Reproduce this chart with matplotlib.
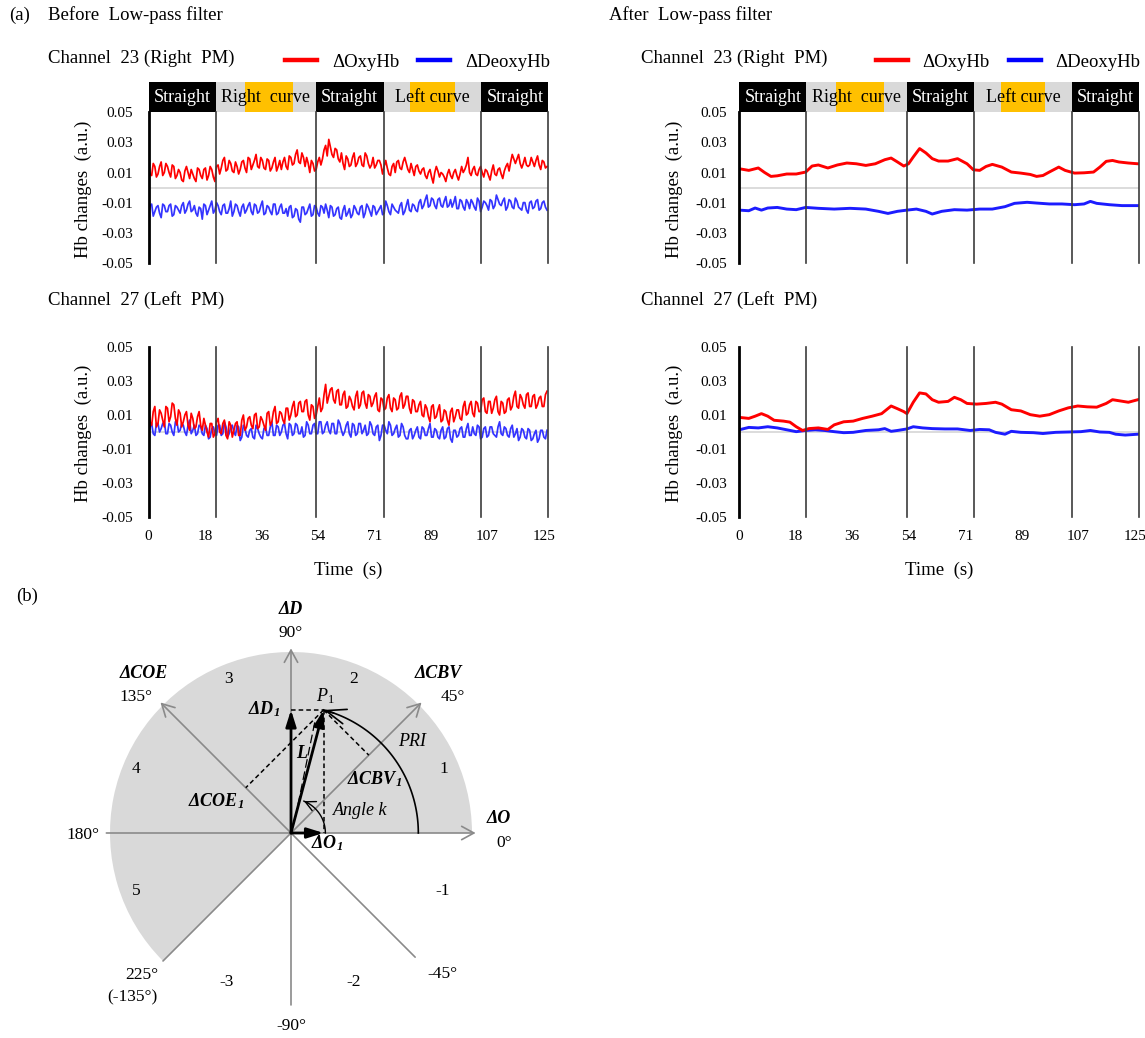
import numpy as np
import matplotlib.pyplot as plt
from matplotlib.patches import Rectangle, Wedge, FancyArrowPatch
from matplotlib.lines import Line2D

plt.rcParams['font.family'] = ['Liberation Serif', 'DejaVu Serif']
plt.rcParams['mathtext.fontset'] = 'custom'
plt.rcParams['mathtext.rm'] = 'Liberation Serif'
plt.rcParams['mathtext.it'] = 'Liberation Serif:italic'
plt.rcParams['mathtext.bf'] = 'Liberation Serif:italic:bold'

# ---- task blocks along the drive (s) ----
seg_edges = [0, 21.2, 52.9, 74.3, 105.2, 126.4]
seg_labels = ['Straight', 'Right  curve', 'Straight', 'Left curve', 'Straight']
cue_spans = [(30.6, 45.8), (82.8, 96.8)]

time_ticks = [0, 125 / 7, 250 / 7, 375 / 7, 500 / 7, 625 / 7, 750 / 7, 125]
time_tick_labels = ['0', '18', '36', '54', '71', '89', '107', '125']
hb_ticks = [0.05, 0.03, 0.01, -0.01, -0.03, -0.05]
hb_tick_labels = ['0.05', '0.03', '0.01', '-0.01', '-0.03', '-0.05']

# ---- raw signals in 1e-3 a.u.: samples on whole seconds (0..126 s) ----
ch23_oxy_raw = [15, 8, 14, 9, 17, 10, 14, 7, 14, 8,
                10, 4, 14, 6, 9, 4, 12, 6, 13, 8,
                12, 4, 15, 13, 20, 12, 16, 10, 14, 12,
                18, 10, 19, 15, 22, 13, 18, 12, 18, 13,
                20, 14, 12, 20, 12, 20, 16, 25, 16, 20,
                20, 10, 16, 12, 20, 19, 28, 32, 22, 26,
                19, 23, 12, 19, 15, 23, 16, 21, 14, 21,
                13, 20, 15, 18, 9, 18, 9, 14, 10, 18,
                12, 20, 12, 16, 8, 15, 9, 13, 6, 12,
                3, 14, 7, 9, 4, 12, 6, 12, 5, 14,
                12, 20, 8, 14, 8, 14, 7, 11, 5, 15,
                8, 13, 6, 14, 11, 22, 16, 22, 13, 20,
                14, 20, 14, 21, 12, 17, 14]
ch23_deoxy_raw = [-18, -11, -16, -12, -20, -12, -16, -11, -18, -13,
                  -17, -10, -15, -9, -15, -17, -13, -21, -12, -15,
                  -9, -15, -12, -18, -11, -17, -9, -16, -12, -19,
                  -11, -15, -10, -18, -12, -16, -9, -17, -13, -18,
                  -11, -17, -11, -17, -19, -12, -19, -15, -23, -13,
                  -17, -11, -18, -13, -19, -13, -11, -20, -13, -18,
                  -13, -21, -12, -17, -20, -12, -17, -13, -20, -11,
                  -16, -12, -18, -14, -18, -9, -16, -11, -15, -17,
                  -10, -16, -8, -16, -12, -16, -8, -12, -5, -12,
                  -8, -14, -7, -13, -6, -12, -13, -6, -14, -9,
                  -15, -10, -8, -13, -7, -16, -9, -12, -8, -14,
                  -5, -11, -9, -15, -8, -13, -7, -13, -15, -10,
                  -17, -9, -13, -8, -14, -9, -15]
ch27_oxy_raw = [14, 4, 15, 5, 11, 3, 14, 9, 16, 4,
                11, 6, 12, 1, 8, 3, 12, 1, 4, -3,
                5, -1, 8, -1, 7, -4, 4, 1, 6, -2,
                10, 3, 9, 2, 11, 3, 7, 1, 12, 6,
                15, 6, 11, 5, 14, 10, 18, 10, 18, 12,
                19, 7, 15, 10, 20, 14, 28, 21, 26, 17,
                25, 16, 24, 15, 19, 13, 24, 16, 24, 14,
                21, 17, 23, 12, 19, 14, 22, 12, 19, 14,
                23, 16, 21, 11, 18, 12, 18, 9, 14, 6,
                16, 9, 16, 7, 12, 4, 14, 9, 13, 7,
                18, 11, 18, 9, 17, 12, 20, 11, 18, 14,
                21, 10, 17, 12, 20, 15, 24, 14, 20, 14,
                23, 15, 22, 16, 21, 15, 24]
ch27_deoxy_raw = [-1, 5, -2, 5, 2, 6, -1, 4, -2, 6,
                  1, 4, -2, 7, 1, -2, 4, -1, 4, -4,
                  2, -1, 4, -2, 6, -3, 3, 0, 4, -5,
                  4, -2, 1, -3, 4, -1, -4, 3, -2, 6,
                  -2, 3, 0, 5, -4, 4, -1, 4, -1, -3,
                  6, -1, 4, -1, 6, -1, 4, 1, 5, -1,
                  7, 1, 0, 6, -3, 4, -1, 5, 1, -2,
                  6, -1, 3, -5, 4, 1, 6, -2, 2, -3,
                  5, -2, -4, 2, -2, 3, -4, 2, -2, 5,
                  -3, 1, -4, 3, -3, 3, -6, 1, -2, 3,
                  -3, 5, -2, -1, 4, -4, 2, -3, 3, -1,
                  -3, 6, -2, 2, -3, 4, -1, -5, 2, -3,
                  2, -5, -1, -6, 1, -3, 1]

# ---- raw signals in 1e-3 a.u.: samples on half seconds (0.5..125.5 s) ----
ch23_oxy_half = [9, 16, 7, 14, 8, 16, 10, 15, 6, 12,
                 5, 11, 10, 12, 6, 13, 8, 12, 5, 14,
                 7, 14, 9, 18, 11, 18, 11, 17, 9, 17,
                 13, 20, 12, 18, 14, 20, 13, 19, 11, 17,
                 11, 18, 17, 14, 21, 15, 22, 17, 23, 14,
                 16, 18, 11, 17, 15, 25, 21, 27, 20, 25,
                 17, 16, 21, 14, 20, 14, 20, 15, 23, 16,
                 15, 13, 18, 15, 14, 13, 8, 16, 17, 13,
                 17, 16, 10, 12, 14, 11, 12, 8, 10, 7,
                 10, 11, 10, 7, 9, 8, 10, 8, 9, 10,
                 15, 10, 12, 9, 12, 10, 12, 8, 11, 9,
                 12, 9, 11, 16, 17, 19, 19, 16, 16, 15,
                 15, 17, 18, 15, 18, 13]
ch23_deoxy_half = [-12, -19, -13, -17, -11, -16, -12, -19, -12, -15,
                   -12, -17, -11, -16, -12, -19, -14, -11, -18, -12,
                   -17, -10, -16, -12, -17, -14, -19, -11, -16, -13,
                   -17, -12, -16, -11, -17, -12, -18, -12, -16, -11,
                   -18, -13, -17, -14, -13, -20, -14, -21, -13, -18,
                   -14, -19, -12, -17, -12, -17, -15, -12, -19, -14,
                   -20, -15, -19, -14, -18, -14, -18, -12, -17, -13,
                   -19, -13, -16, -12, -17, -12, -18, -13, -16, -12,
                   -18, -12, -15, -11, -15, -10, -14, -8, -13, -7,
                   -12, -8, -12, -9, -13, -8, -10, -14, -8, -13,
                   -8, -14, -10, -15, -9, -13, -10, -15, -9, -12,
                   -8, -12, -7, -13, -9, -14, -9, -14, -10, -15,
                   -10, -14, -9, -15, -10, -13]
ch27_oxy_half = [6, 12, 3, 13, 7, 15, 6, 17, 8, 13,
                 3, 10, 4, 11, 2, 9, 4, 8, 0, 5,
                 -3, 6, 0, 5, -2, 6, -3, 5, -2, 7,
                 1, 8, 4, 10, 2, 9, 4, 11, 4, 12,
                 5, 12, 7, 14, 7, 15, 9, 17, 12, 18,
                 10, 16, 8, 15, 12, 22, 17, 25, 19, 24,
                 16, 22, 14, 21, 15, 21, 14, 23, 17, 22,
                 15, 21, 13, 20, 13, 20, 14, 20, 13, 21,
                 14, 21, 14, 19, 12, 16, 10, 16, 9, 15,
                 8, 13, 6, 13, 7, 12, 6, 13, 8, 15,
                 10, 16, 11, 18, 12, 19, 12, 18, 11, 19,
                 12, 18, 11, 19, 13, 21, 15, 22, 16, 22,
                 15, 21, 14, 20, 15, 22]
ch27_deoxy_half = [3, -1, 5, 0, 5, -1, 5, 0, 6, 0,
                   5, 0, 4, -1, 4, -1, 3, -2, 2, -3,
                   3, -2, 4, -1, 3, -1, 4, -2, 3, -3,
                   2, -3, 2, -4, 2, -3, 2, -2, 3, -2,
                   4, -2, 4, -1, 5, -2, 5, -1, 3, -2,
                   4, -1, 5, -1, 6, 0, 6, -1, 5, -1,
                   5, -2, 4, -1, 5, -2, 5, -1, 4, -1,
                   4, -2, 4, -2, 4, -1, 4, -1, 4, -2,
                   3, -4, 1, -4, 1, -3, 3, -2, 2, -3,
                   2, -3, 1, -4, 2, -4, 1, -3, 2, -3,
                   2, -2, 3, -2, 3, -3, 3, -2, 3, -2,
                   3, -1, 3, -2, 2, -3, 2, -3, 1, -4,
                   1, -4, 1, -4, 1, -4]

# ---- low-pass filtered signals, in 1e-3 a.u. ----
ch23_oxy_lp_t = [0, 3, 6, 8, 10, 12, 15, 18, 21, 23, 25, 28, 31, 34, 37, 40, 43, 46, 48, 50,
                 52, 53.5, 55, 57, 59, 61, 63, 66, 69, 72, 74, 76, 78, 80, 83, 86, 89, 92, 94, 96,
                 98, 101, 103, 106, 109, 112, 114, 116, 118, 120, 123, 126]
ch23_oxy_lp = [12.5, 11.4, 13, 10, 7.4, 7.8, 9, 9, 10.3, 14.3, 15, 13, 15, 16.3, 15.8, 14.7, 15.8, 18.5, 19.6, 17,
               14.3, 15.8, 20.3, 25.9, 23, 19.2, 17.6, 17.6, 19.2, 15.8, 11.8, 11.4, 14, 15.4, 13.6, 10.3, 9.6, 8.7, 7.4, 8,
               10.3, 13.6, 11.4, 9.6, 9.8, 10.3, 13.6, 17.4, 18, 17, 16.3, 15.8]
ch23_deoxy_lp_t = [0, 3, 5, 7, 9, 12, 15, 18, 21, 25, 30, 35, 40, 44, 47, 50, 53, 56, 59, 61,
                   64, 68, 72, 76, 80, 84, 87, 91, 94, 98, 102, 106, 109, 111, 113, 117, 121, 126]
ch23_deoxy_lp = [-15, -15.4, -13.6, -15, -13.6, -13.2, -14.3, -14.7, -13.2, -13.8, -14.3, -13.8, -14.3, -15.8, -17.2,
                 -15.8, -15, -14.3, -15.8, -17.6, -15.8, -14.7, -15, -14.3, -14.3, -12.7, -10.5, -9.8, -10.3, -10.9,
                 -10.9, -11.4, -10.9, -9.2, -10.5, -11.4, -12, -12]
ch27_oxy_lp_t = [0, 3, 5, 7, 9, 11, 14, 16, 18, 20, 22, 25, 28, 30, 33, 36, 39, 42, 45, 48,
                 50, 52, 53, 55, 57, 59, 61, 63, 66, 68, 70, 72, 75, 78, 81, 83, 86, 89, 92, 95,
                 98, 101, 104, 107, 110, 113, 116, 118, 121, 123, 126]
ch27_oxy_lp = [8.6, 8, 9.3, 10.8, 9.3, 6.9, 6.4, 5.8, 3.1, 0.9, 2, 2.4, 1.5, 4.2, 6, 6.4, 8, 9.3, 10.8, 15.3,
               13.7, 12, 10.8, 17.5, 23, 22.4, 19, 17.5, 18, 20.4, 19, 16.8, 16.4, 16.8, 17.5, 16.4, 13.1, 12.4, 10.2, 9.3,
               10.2, 12.4, 14.2, 15.3, 14.8, 14.6, 16.8, 19, 18.1, 17.5, 19]
ch27_deoxy_lp_t = [0, 3, 6, 9, 12, 15, 18, 21, 24, 27, 30, 33, 36, 40, 44, 46, 48, 50, 53, 55,
                   58, 61, 65, 69, 73, 76, 79, 81, 84, 86, 89, 93, 96, 100, 104, 108, 111, 114, 117, 119,
                   122, 126]
ch27_deoxy_lp = [1.3, 2.7, 2.4, 3.1, 2.4, 1.3, 0.2, 0.9, 1.3, 0.9, 0.2, -0.4, -0.2, 0.9, 1.3, 2, 0.4, 0.9, 1.8, 3.1,
                 2.4, 2, 1.8, 1.8, 0.9, 1.5, 1.3, -0.2, -1.3, 0.4, -0.2, -0.4, -0.9, -0.2, 0, 0.2, 0.9, 0, -0.2, -1.3,
                 -1.8, -1.3]

# ---- vector diagram (unit = radius of the shaded sector) ----
p1 = [0.18, 0.68]
axis_angles = [0, 45, 90, 135]
axis_back_reach = [1.02, 1.0, 0.95, 0.97]
axis_names = ['ΔO', 'ΔCBV', 'ΔD', 'ΔCOE']
axis_name_xy = [(1.15, 0.08), (0.816, 0.88), (0.0, 1.236), (-0.816, 0.88)]
deg_labels = ['0°', '45°', '90°', '135°', '180°', '225°', '(-135°)', '-90°', '-45°']
deg_xy = [(1.18, -0.056), (0.895, 0.749), (0.0, 1.105), (-0.855, 0.749), (-1.15, -0.01),
          (-0.826, -0.787), (-0.875, -0.908), (0.0, -1.065), (0.836, -0.777)]
sector_labels = ['1', '2', '3', '4', '5', '-1', '-2', '-3']
sector_xy = [(0.845, 0.356), (0.344, 0.852), (-0.344, 0.852), (-0.855, 0.356), (-0.855, -0.318),
             (0.836, -0.318), (0.344, -0.824), (-0.354, -0.824)]

RED = '#ff0000'
BLUE_RAW = '#3434ff'
BLUE = '#1c1cff'
T_END = 126.4
PANEL_W = 399.8


def merge_half(whole, half):
    """Interleave whole-second and half-second samples into one series."""
    t = np.arange(len(whole) + len(half)) * 0.5
    v = np.empty(len(t))
    v[0::2] = whole
    v[1::2] = half
    return t, v


W, H = 1145, 1038
fig = plt.figure(figsize=(W / 100, H / 100), dpi=100)


def px_box(x0, y0, x1, y1):
    return [x0 / W, 1 - y1 / H, (x1 - x0) / W, (y1 - y0) / H]


def ftext(x, y, s, **kw):
    kw.setdefault('va', 'center')
    kw.setdefault('fontsize', 13.5)
    fig.text(x / W, 1 - y / H, s, **kw)


def draw_header(x0):
    hx = fig.add_axes(px_box(x0, 82.3, x0 + PANEL_W, 111.7))
    hx.set_xlim(0, T_END)
    hx.set_ylim(0, 1)
    hx.axis('off')
    for i, lab in enumerate(seg_labels):
        a, b = seg_edges[i], seg_edges[i + 1]
        fc = 'black' if lab == 'Straight' else '#d9d9d9'
        hx.add_patch(Rectangle((a, 0), b - a, 1, facecolor=fc, edgecolor='none'))
    for a, b in cue_spans:
        hx.add_patch(Rectangle((a, 0), b - a, 1, facecolor='#ffc000', edgecolor='none'))
    for i, lab in enumerate(seg_labels):
        mid = (seg_edges[i] + seg_edges[i + 1]) / 2
        hx.text(mid, 0.47, lab, ha='center', va='center', fontsize=13,
                color='white' if lab == 'Straight' else 'black')


def draw_traces(x0, y0, y1, oxy_t, oxy, deoxy_t, deoxy, lw, blue, show_time, pad):
    ax = fig.add_axes(px_box(x0, y0, x0 + PANEL_W, y1))
    ax.set_xlim(0, T_END)
    ax.set_ylim(-0.05, 0.05)
    for s in ax.spines.values():
        s.set_visible(False)
    ax.axhline(0, color='#d6d6d6', lw=1.2, zorder=1)
    ax.plot(deoxy_t, np.array(deoxy) * 1e-3, color=blue, lw=lw, zorder=2)
    ax.plot(oxy_t, np.array(oxy) * 1e-3, color=RED, lw=lw, zorder=2)
    for i, e in enumerate(seg_edges):
        ax.axvline(e, color='black' if i == 0 else '#3c3c3c', lw=2.0 if i == 0 else 1.2,
                   zorder=3, clip_on=False)
    ax.set_yticks(hb_ticks)
    ax.set_yticklabels(hb_tick_labels, fontsize=11)
    ax.tick_params(axis='y', length=0, pad=pad)
    if show_time:
        ax.set_xticks(time_ticks)
        ax.set_xticklabels(time_tick_labels, fontsize=11)
        ax.tick_params(axis='x', length=0, pad=9)
        ax.text(0.5, -53 / (y1 - y0), 'Time  (s)', transform=ax.transAxes,
                ha='center', va='center', fontsize=13.5)
    else:
        ax.set_xticks([])
    ax.text(-0.163, 0.49, 'Hb changes  (a.u.)', transform=ax.transAxes, rotation=90,
            ha='center', va='center', fontsize=13.5)
    return ax


def draw_legend(x):
    handles = [Line2D([], [], color=RED, lw=3.2, label='ΔOxyHb'),
               Line2D([], [], color='#0000ff', lw=3.2, label='ΔDeoxyHb')]
    fig.legend(handles=handles, loc='center left', bbox_to_anchor=(x / W, 1 - 62 / H), ncol=2,
               frameon=False, fontsize=13.5, handlelength=1.7, handletextpad=0.8,
               columnspacing=1.0, borderpad=0, borderaxespad=0)


# (a) before / after low-pass filtering
ftext(9, 15, '(a)')
ftext(48.5, 15, 'Before  Low-pass filter')
ftext(609, 15, 'After  Low-pass filter')

t23o, v23o = merge_half(ch23_oxy_raw, ch23_oxy_half)
t23d, v23d = merge_half(ch23_deoxy_raw, ch23_deoxy_half)
t27o, v27o = merge_half(ch27_oxy_raw, ch27_oxy_half)
t27d, v27d = merge_half(ch27_deoxy_raw, ch27_deoxy_half)

for x_off, filtered in [(0, False), (590.8, True)]:
    ftext(48.5 + x_off + (1.5 if filtered else 0), 58, 'Channel  23 (Right  PM)')
    ftext(48.5 + x_off + (1.5 if filtered else 0), 300, 'Channel  27 (Left  PM)')
    draw_legend(285 + x_off)
    draw_header(148.5 + x_off)
    pad = 9 if filtered else 11
    if filtered:
        draw_traces(148.5 + x_off, 112.3, 262.8, ch23_oxy_lp_t, ch23_oxy_lp, ch23_deoxy_lp_t, ch23_deoxy_lp,
                    2.1, BLUE, False, pad)
        draw_traces(148.5 + x_off, 347, 517, ch27_oxy_lp_t, ch27_oxy_lp, ch27_deoxy_lp_t, ch27_deoxy_lp,
                    2.1, BLUE, True, pad)
    else:
        draw_traces(148.5, 112.3, 262.8, t23o, v23o, t23d, v23d, 1.25, BLUE_RAW, False, pad)
        draw_traces(148.5, 347, 517, t27o, v27o, t27d, v27d, 1.25, BLUE_RAW, True, pad)

# (b) vector diagram
ftext(16, 596, '(b)')
cx, cy, R = 291, 833, 181
dx = fig.add_axes(px_box(0, 580, 580, 1038))
dx.set_xlim((0 - cx) / R, (580 - cx) / R)
dx.set_ylim((cy - 1038) / R, (cy - 580) / R)
dx.axis('off')

dx.add_patch(Wedge((0, 0), 1.0, 0, 225, facecolor='#d9d9d9', edgecolor='none', zorder=0))

GREY = '#8a8a8a'
for a, back in zip(axis_angles, axis_back_reach):
    th = np.radians(a)
    reach = 1.02
    dx.add_patch(FancyArrowPatch((-back * np.cos(th), -back * np.sin(th)),
                                 (reach * np.cos(th), reach * np.sin(th)),
                                 arrowstyle='->, head_length=0.55, head_width=0.3', mutation_scale=16,
                                 color=GREY, lw=1.2, shrinkA=0, shrinkB=0, zorder=1))

for name, (x, y) in zip(axis_names, axis_name_xy):
    dx.text(x, y, name, ha='center', va='center', fontsize=13, fontweight='bold', style='italic')
for lab, (x, y) in zip(deg_labels, deg_xy):
    dx.text(x, y, lab, ha='center', va='center', fontsize=12.5)
for lab, (x, y) in zip(sector_labels, sector_xy):
    dx.text(x, y, lab, ha='center', va='center', fontsize=12.5)

px_, py_ = p1
dash = dict(color='black', lw=1.1, ls=(0, (3, 2)), zorder=2)
dx.plot([0, px_], [py_, py_], **dash)
dx.plot([px_, px_], [py_, 0], **dash)
cbv = (px_ + py_) / 2
dx.plot([px_, cbv], [py_, cbv], **dash)
coe = (py_ - px_) / 2
dx.plot([px_, -coe], [py_, coe], **dash)
dx.plot([0.025, 0.135], [0.09, 0.63], color='black', lw=0.9, ls=(0, (7, 3)), zorder=2)

vec = dict(arrowstyle='-|>, head_length=0.7, head_width=0.22', mutation_scale=14,
           color='black', lw=2.0, shrinkA=0, shrinkB=0, zorder=4)
dx.add_patch(FancyArrowPatch((0, 0), (px_, 0), **vec))
dx.add_patch(FancyArrowPatch((0, 0), (0, py_), **vec))
dx.add_patch(FancyArrowPatch((0, 0), (px_, py_), **vec))

# PRI arc from the 0° axis up to P1
rp = np.hypot(px_, py_)
ang = np.linspace(0, np.arctan2(py_, px_), 80)
dx.plot(rp * np.cos(ang), rp * np.sin(ang), color='black', lw=1.2, zorder=3)
dx.add_patch(FancyArrowPatch((rp * np.cos(ang[-6]), rp * np.sin(ang[-6])), (px_, py_),
                             arrowstyle='->, head_length=1.2, head_width=0.45', mutation_scale=12,
                             color='black', lw=1.2, shrinkA=0, shrinkB=0, zorder=3))

# angle k arc
rk = 0.19
ang = np.linspace(0, np.radians(68), 40)
dx.plot(rk * np.cos(ang), rk * np.sin(ang), color='black', lw=1.0, zorder=3)
dx.add_patch(FancyArrowPatch((rk * np.cos(ang[-5]), rk * np.sin(ang[-5])),
                             (rk * np.cos(ang[-1]), rk * np.sin(ang[-1])),
                             arrowstyle='->, head_length=0.6, head_width=0.3', mutation_scale=12,
                             color='black', lw=1.0, shrinkA=0, shrinkB=0, zorder=3))

dx.text(0.187, 0.758, '$P_1$', ha='center', va='center', fontsize=13)
dx.text(-0.147, 0.683, r'$\mathbf{ΔD_1}$', ha='center', va='center', fontsize=13)
dx.text(0.059, 0.44, 'L', ha='center', va='center', fontsize=13, fontweight='bold', style='italic')
dx.text(0.668, 0.506, 'PRI', ha='center', va='center', fontsize=13, style='italic')
dx.text(0.462, 0.30, r'$\mathbf{ΔCBV_1}$', ha='center', va='center', fontsize=13)
dx.text(-0.413, 0.178, r'$\mathbf{ΔCOE_1}$', ha='center', va='center', fontsize=13)
dx.text(0.383, 0.122, 'Angle k', ha='center', va='center', fontsize=13, style='italic')
dx.text(0.197, -0.056, r'$\mathbf{ΔO_1}$', ha='center', va='center', fontsize=13)

fig.savefig('out.png', dpi=100)
